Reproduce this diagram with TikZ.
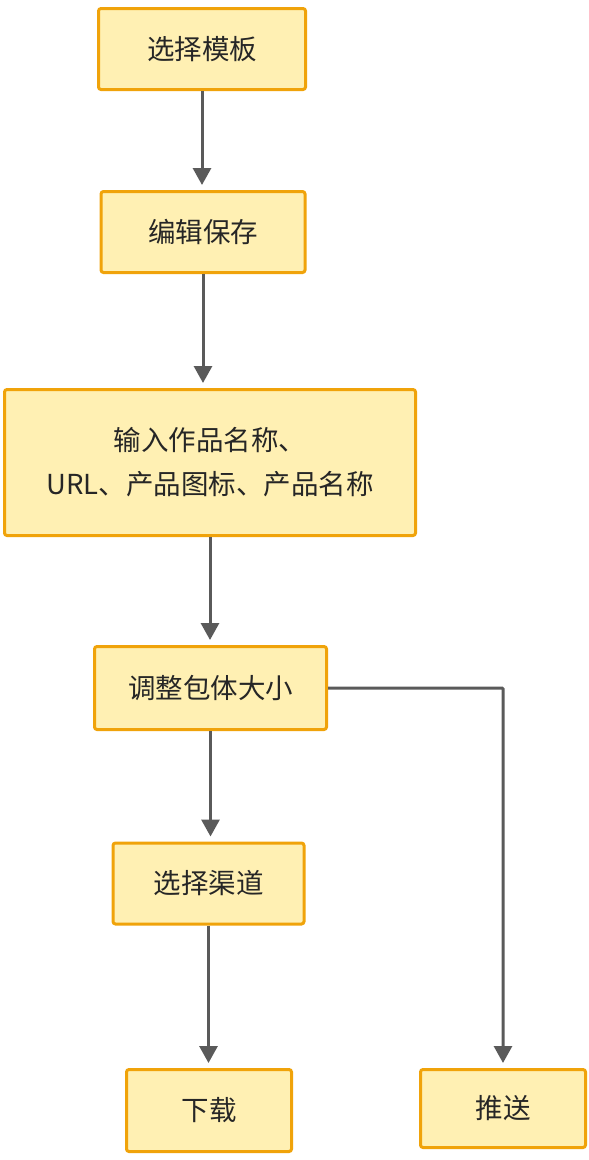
\documentclass[tikz,border=0pt]{standalone}
\usepackage{fontspec}
\setmainfont{Noto Sans CJK SC}
\usetikzlibrary{arrows.meta}
\definecolor{boxfill}{HTML}{FFF0B3}
\definecolor{boxline}{HTML}{F0A30A}
\definecolor{arrowc}{HTML}{5A5A5A}
\begin{document}
\begin{tikzpicture}[x=1pt,y=-1pt,
  box/.style={draw=boxline,fill=boxfill,line width=3pt,rounded corners=2.5pt,
    inner sep=0pt,align=center,font=\fontsize{27.5}{44}\selectfont,text=black!85},
  flow/.style={draw=arrowc,line width=3pt,-{Triangle[length=17pt,width=18pt]},shorten >=5pt}]
\useasboundingbox (0,0) rectangle (589,1160);
\node[box,minimum width=207pt,minimum height=81pt] (a) at (202,49) {选择模板};
\node[box,minimum width=204pt,minimum height=81pt] (b) at (203,232) {编辑保存};
\node[box,minimum width=411pt,minimum height=146pt] (c) at (210,462.5) {输入作品名称、\\URL、产品图标、产品名称};
\node[box,minimum width=232pt,minimum height=83pt] (d) at (210.5,688) {调整包体大小};
\node[box,minimum width=191pt,minimum height=81pt] (e) at (208.5,883.5) {选择渠道};
\node[box,minimum width=165pt,minimum height=82pt] (f) at (209,1110.5) {下载};
\node[box,minimum width=165pt,minimum height=78pt] (g) at (503,1108.5) {推送};
\draw[flow] (a.south) -- (a.south |- b.north);
\draw[flow] (b.south) -- (b.south |- c.north);
\draw[flow] (c.south) -- (c.south |- d.north);
\draw[flow] (d.south) -- (d.south |- e.north);
\draw[flow] (e.south) -- (e.south |- f.north);
\draw[flow,rounded corners=1pt] (d.east) -| (g.north);
\end{tikzpicture}
\end{document}
